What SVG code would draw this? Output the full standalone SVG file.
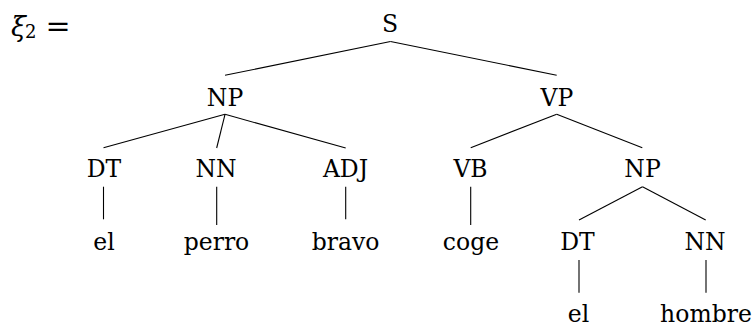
<svg xmlns="http://www.w3.org/2000/svg" width="756" height="329" viewBox="0 0 756 329">
<style>
text{font-family:"DejaVu Serif","Liberation Serif",serif;font-size:23.5px;fill:#000;text-anchor:middle}
.e line{stroke:#000;stroke-width:1.1}
</style>
<rect width="756" height="329" fill="#fff"/>
<g id="label"><text x="11" y="36" style="text-anchor:start;font-style:italic;font-size:27px">ξ</text><text x="25" y="38" style="text-anchor:start;font-size:18px">2</text><text x="58" y="36" style="font-size:30px">=</text></g>
<g id="n-S"><text x="390" y="32">S</text></g>
<g id="n-NP1"><text x="225" y="106">NP</text></g>
<g id="n-VP"><text x="557" y="106">VP</text></g>
<g id="n-DT1"><text x="104" y="177">DT</text></g>
<g id="n-NN1"><text x="216" y="177">NN</text></g>
<g id="n-ADJ"><text x="345.5" y="177">ADJ</text></g>
<g id="n-VB"><text x="470.5" y="177">VB</text></g>
<g id="n-NP2"><text x="642.5" y="177">NP</text></g>
<g id="n-el1"><text x="104" y="250">el</text></g>
<g id="n-perro"><text x="216.5" y="250">perro</text></g>
<g id="n-bravo"><text x="345.5" y="250">bravo</text></g>
<g id="n-coge"><text x="471" y="250">coge</text></g>
<g id="n-DT2"><text x="577.5" y="250">DT</text></g>
<g id="n-NN2"><text x="705" y="250">NN</text></g>
<g id="n-el2"><text x="578.5" y="322">el</text></g>
<g id="n-hombre"><text x="706" y="322">hombre</text></g>
<g id="connectors" class="e">
<line x1="390.5" y1="41.5" x2="225" y2="75.3"/>
<line x1="390.5" y1="41.5" x2="556.7" y2="75.3"/>
<line x1="225" y1="114.3" x2="103.5" y2="147.7"/>
<line x1="225" y1="114.3" x2="216.7" y2="148"/>
<line x1="225" y1="114.3" x2="345.7" y2="148"/>
<line x1="556.7" y1="114.3" x2="470.7" y2="147.7"/>
<line x1="556.7" y1="114.3" x2="642.3" y2="147.7"/>
<line x1="103.5" y1="186.7" x2="103.5" y2="219.3"/>
<line x1="216.7" y1="186.7" x2="216.7" y2="225"/>
<line x1="345.7" y1="186.7" x2="345.7" y2="219.3"/>
<line x1="470.7" y1="186.7" x2="470.7" y2="225"/>
<line x1="642.5" y1="186.7" x2="579" y2="220"/>
<line x1="642.5" y1="186.7" x2="705.7" y2="220"/>
<line x1="579" y1="260" x2="579" y2="292.7"/>
<line x1="706" y1="260" x2="706" y2="292.7"/>
</g>
</svg>
